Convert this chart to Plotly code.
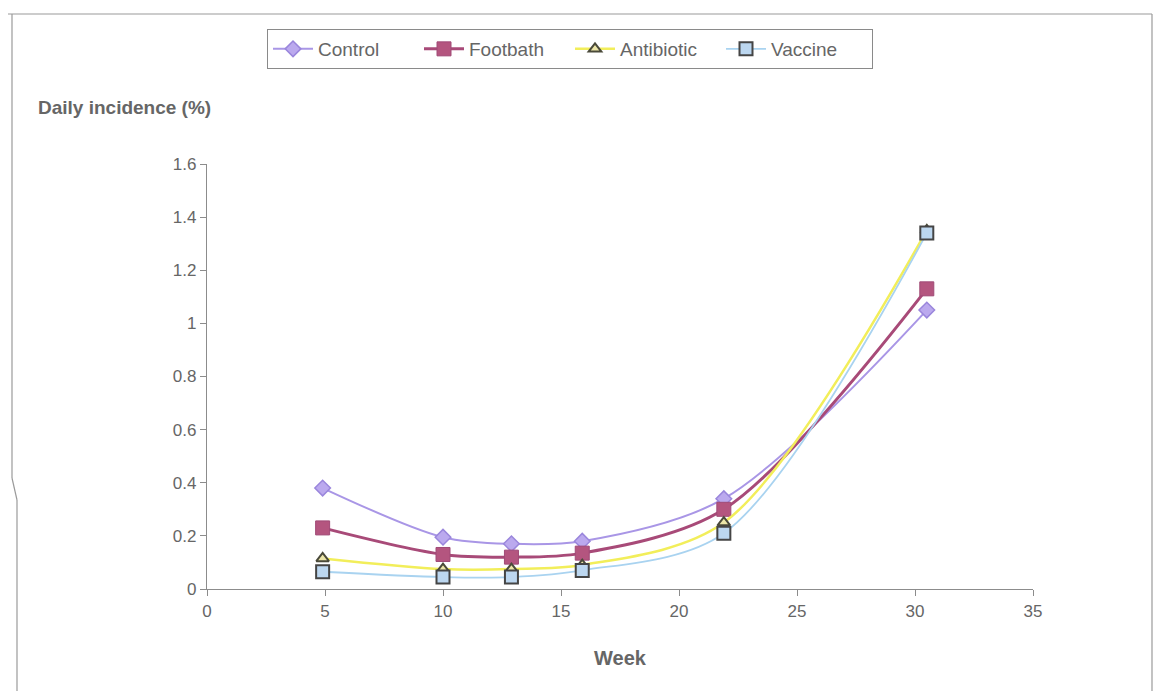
import plotly.graph_objects as go

# Weekly observation points and daily incidence (%) per treatment group
weeks = [4.9, 10, 12.9, 15.9, 21.9, 30.5]
control = [0.38, 0.195, 0.17, 0.18, 0.34, 1.05]
footbath = [0.23, 0.13, 0.12, 0.135, 0.30, 1.13]
antibiotic = [0.115, 0.075, 0.075, 0.09, 0.25, 1.35]
vaccine = [0.065, 0.045, 0.045, 0.07, 0.21, 1.34]

x_ticks = [0, 5, 10, 15, 20, 25, 30, 35]
y_ticks = [0, 0.2, 0.4, 0.6, 0.8, 1.0, 1.2, 1.4, 1.6]
y_tick_text = ["0", "0.2", "0.4", "0.6", "0.8", "1", "1.2", "1.4", "1.6"]

FONT = "Liberation Sans, Arial, sans-serif"
GREY = "#666666"

fig = go.Figure()

series = [
    ("Control", control, dict(color="#a996e6", width=2),
     dict(symbol="diamond", size=12, color="#bba9ee", line=dict(color="#9a86dc", width=1.5))),
    ("Footbath", footbath, dict(color="#a84a78", width=3),
     dict(symbol="square", size=14, color="#b4557f", line=dict(color="#a04a76", width=1))),
    ("Antibiotic", antibiotic, dict(color="#f2ee5a", width=2.5),
     dict(symbol="triangle-up", size=11, color="#ece6a8", line=dict(color="#4a4a3a", width=2))),
    ("Vaccine", vaccine, dict(color="#a9d3f0", width=1.8),
     dict(symbol="square", size=13, color="#bcd7f0", line=dict(color="#454545", width=2))),
]

for name, vals, line, marker in series:
    fig.add_trace(go.Scatter(
        x=weeks, y=vals, name=name, mode="lines+markers",
        line=dict(shape="spline", smoothing=0.9, **line),
        marker=marker,
    ))

# Plot area geometry (pixels) used to place frame lines in paper coordinates
L, R, T, B = 207, 1033, 164, 589
W, H = R - L, B - T


def px(x):
    return (x - L) / W


def py(y):
    return (B - y) / H


frame = dict(color="#9a9a9a", width=1.2)
fig.add_shape(type="line", xref="paper", yref="paper",
              x0=px(8), x1=px(1152), y0=py(14), y1=py(14), line=frame)
fig.add_shape(type="line", xref="paper", yref="paper",
              x0=px(1152), x1=px(1152), y0=py(14), y1=py(691), line=frame)
fig.add_shape(type="line", xref="paper", yref="paper",
              x0=px(12), x1=px(12), y0=py(14), y1=py(478), line=frame)
fig.add_shape(type="line", xref="paper", yref="paper",
              x0=px(12), x1=px(17), y0=py(478), y1=py(500), line=frame)
fig.add_shape(type="line", xref="paper", yref="paper",
              x0=px(17), x1=px(17), y0=py(500), y1=py(691), line=frame)

fig.add_annotation(text="<b>Daily incidence (%)</b>", xref="paper", yref="paper",
                   x=px(36), y=py(107), xanchor="left", yanchor="middle",
                   showarrow=False, font=dict(family=FONT, size=19, color=GREY))
fig.add_annotation(text="<b>Week</b>", xref="paper", yref="paper",
                   x=px(620), y=py(658), xanchor="center", yanchor="middle",
                   showarrow=False, font=dict(family=FONT, size=20, color=GREY))

fig.update_layout(
    width=1159, height=691,
    margin=dict(l=L, r=1159 - R, t=T, b=691 - B, autoexpand=False),
    paper_bgcolor="white", plot_bgcolor="white",
    font=dict(family=FONT, size=17, color=GREY),
    showlegend=True,
    legend=dict(
        orientation="h", x=px(267), y=py(29), xanchor="left", yanchor="top",
        bordercolor="#8a8a8a", borderwidth=1, bgcolor="white",
        font=dict(family=FONT, size=19, color=GREY),
        itemwidth=40, entrywidth=96, entrywidthmode="pixels",
        tracegroupgap=0,
    ),
    xaxis=dict(range=[0, 35], tickvals=x_ticks, showgrid=False, zeroline=False,
               showline=True, linecolor="#8c8c8c", linewidth=1.2,
               ticks="outside", ticklen=6, tickcolor="#8c8c8c",
               tickfont=dict(family=FONT, size=17, color=GREY)),
    yaxis=dict(range=[0, 1.6], tickvals=y_ticks, ticktext=y_tick_text,
               showgrid=False, zeroline=False,
               showline=True, linecolor="#8c8c8c", linewidth=1.2,
               ticks="outside", ticklen=6, tickcolor="#8c8c8c",
               tickfont=dict(family=FONT, size=17, color=GREY)),
)

fig.write_html("out.html")
